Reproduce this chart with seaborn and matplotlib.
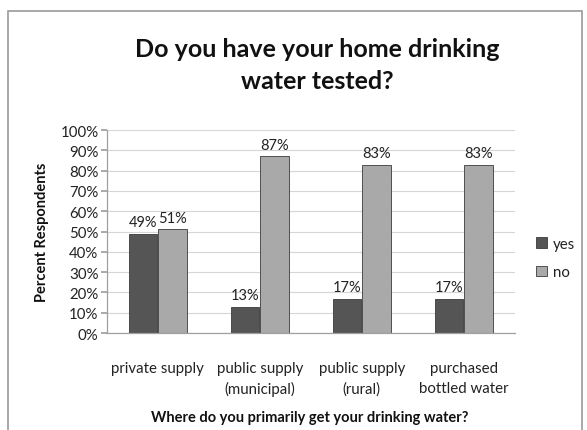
import matplotlib
matplotlib.use("Agg")
import matplotlib.pyplot as plt
import matplotlib.patches as mpatches
import seaborn as sns
import pandas as pd

sources = ["private supply", "public supply\n(municipal)", "public supply\n(rural)", "purchased\nbottled water"]
yes_pct = [49, 13, 17, 17]
no_pct = [51, 87, 83, 83]
answers = ["yes", "no"]
yticks = list(range(0, 101, 10))

df = pd.DataFrame({
    "source": sources * 2,
    "answer": ["yes"] * len(sources) + ["no"] * len(sources),
    "pct": yes_pct + no_pct,
})

sns.set_theme(style="white")
plt.rcParams["font.family"] = ["Lato", "DejaVu Sans"]

fig = plt.figure(figsize=(5.87, 4.31), dpi=100)
ax = fig.add_axes([0.182, 0.225, 0.695, 0.471])

palette = {"yes": "#555555", "no": "#a9a9a9"}
sns.barplot(data=df, x="source", y="pct", hue="answer", hue_order=answers,
            palette=palette, width=0.58, gap=0.04, saturation=1,
            edgecolor="#3a3a3a", linewidth=0.6, ax=ax)

for container in ax.containers:
    ax.bar_label(container, labels=[f"{v:.0f}%" for v in container.datavalues],
                 padding=3, fontsize=10.5, color="#222222")

ax.set_ylim(0, 100)
ax.set_yticks(yticks)
ax.set_yticklabels([f"{t}%" for t in yticks], fontsize=10.8, color="#222222")
ax.tick_params(axis="x", labelsize=10.8, colors="#222222", length=0, pad=20)
ax.tick_params(axis="y", left=True, length=4, color="#a0a0a0", pad=2)
for lbl in ax.get_xticklabels():
    lbl.set_linespacing(1.55)
ax.yaxis.grid(True, color="#d6d6d6", linewidth=0.8)
ax.set_axisbelow(True)
for side in ["top", "right"]:
    ax.spines[side].set_visible(False)
for side in ["left", "bottom"]:
    ax.spines[side].set_color("#a0a0a0")
    ax.spines[side].set_linewidth(0.9)

ax.set_xlabel("")
ax.set_ylabel("Percent Respondents", fontsize=10.5, fontweight="bold",
              color="#111111", labelpad=8)
fig.text(0.527, 0.03, "Where do you primarily get your drinking water?",
         ha="center", va="center", fontsize=10.5, fontweight="bold",
         color="#111111")

leg = ax.legend(loc="center left", bbox_to_anchor=(1.02, 0.37), frameon=False,
                fontsize=10.8, handlelength=0.7, handleheight=0.7,
                handletextpad=0.4, labelspacing=0.95)
for t in leg.get_texts():
    t.set_color("#222222")

fig.text(0.54, 0.848, "Do you have your home drinking\nwater tested?",
         ha="center", va="center", fontsize=18, fontweight="bold",
         color="#111111", linespacing=1.5)

fig.patches.append(mpatches.Rectangle((0.0136, -0.1), 0.978, 1.072,
                                      transform=fig.transFigure, fill=False,
                                      edgecolor="#9a9a9a", linewidth=1.2))

fig.savefig("out.png", dpi=100, facecolor="white")
